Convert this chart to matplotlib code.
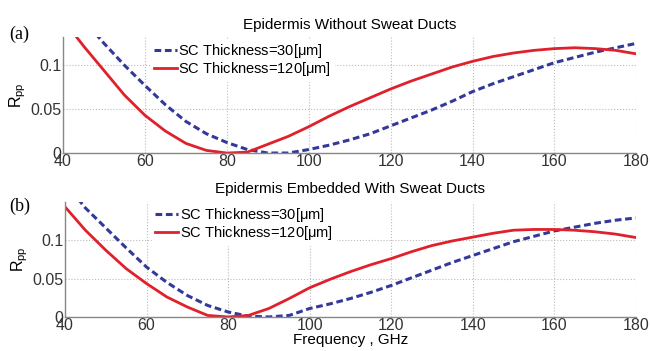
import numpy as np
import matplotlib
matplotlib.use("Agg")
from matplotlib import pyplot as plt

plt.rcParams['font.family'] = ['Liberation Sans', 'DejaVu Sans']
plt.rcParams['mathtext.default'] = 'regular'

# frequency grid, GHz
freq = np.arange(40, 181, 5)

# (a) epidermis without sweat ducts
rpp_a_30 = [0.200, 0.152, 0.125, 0.100, 0.077, 0.055, 0.036, 0.022, 0.012, 0.004,
            0.000, 0.000, 0.004, 0.009, 0.015, 0.022, 0.031, 0.040, 0.049, 0.059,
            0.070, 0.079, 0.087, 0.095, 0.103, 0.109, 0.115, 0.120, 0.125]
rpp_a_120 = [0.152, 0.122, 0.094, 0.066, 0.043, 0.025, 0.011, 0.003, 0.000, 0.001,
             0.010, 0.019, 0.030, 0.042, 0.053, 0.063, 0.073, 0.082, 0.090, 0.098,
             0.1045, 0.110, 0.114, 0.117, 0.119, 0.120, 0.119, 0.117, 0.113]

# (b) epidermis embedded with sweat ducts
rpp_b_30 = [0.175, 0.142, 0.116, 0.090, 0.065, 0.045, 0.028, 0.015, 0.0065, 0.001,
            0.000, 0.002, 0.011, 0.017, 0.024, 0.032, 0.041, 0.051, 0.061, 0.071,
            0.080, 0.089, 0.098, 0.105, 0.112, 0.117, 0.122, 0.126, 0.129]
rpp_b_120 = [0.1435, 0.113, 0.087, 0.063, 0.0435, 0.026, 0.013, 0.002, 0.000, 0.002,
             0.011, 0.024, 0.038, 0.049, 0.059, 0.068, 0.076, 0.085, 0.093, 0.099,
             0.104, 0.109, 0.113, 0.114, 0.114, 0.113, 0.111, 0.108, 0.1035]

labels = ['SC Thickness=30[$\\mu$m]', 'SC Thickness=120[$\\mu$m]']
titles = ['Epidermis Without Sweat Ducts', 'Epidermis Embedded With Sweat Ducts']
panel_tags = ['(a)', '(b)']
xticks = [40, 60, 80, 100, 120, 140, 160, 180]
yticks = [0, 0.05, 0.1]
ytick_labels = ['0', '0.05', '0.1']

blue = '#33399a'
red = '#e0202a'

fig = plt.figure(figsize=(6.5, 3.51), dpi=100)
ax_a = fig.add_axes([0.097, 0.564, 0.882, 0.330])
ax_b = fig.add_axes([0.100, 0.097, 0.878, 0.328])

panels = [(ax_a, rpp_a_30, rpp_a_120, 0.132, 0.889),
          (ax_b, rpp_b_30, rpp_b_120, 0.150, 0.400)]

for i, (ax, r30, r120, ytop, tag_y) in enumerate(panels):
    ax.plot(freq, r30, color=blue, lw=2.2, dashes=(2.2, 1.2), label=labels[0])
    ax.plot(freq, r120, color=red, lw=2.0, label=labels[1])
    ax.set_xlim(40, 180)
    ax.set_ylim(0, ytop)
    ax.set_xticks(xticks)
    ax.set_yticks(yticks)
    ax.set_yticklabels(ytick_labels)
    ax.tick_params(labelsize=11.5, length=0, pad=1, colors='#333333')
    ax.grid(True, color='#bbbbbb', linestyle=':', linewidth=0.8)
    for s in ['top', 'right']:
        ax.spines[s].set_visible(False)
    for s in ['left', 'bottom']:
        ax.spines[s].set_color('#888888')
        ax.spines[s].set_linewidth(1.0)
    ax.set_ylabel('R$_{pp}$', fontsize=11.5, labelpad=2)
    ax.set_title(titles[i], fontsize=11, pad=6)
    leg = ax.legend(loc='upper left', bbox_to_anchor=(0.14, 1.05), fontsize=10.5,
                    handlelength=1.6, handletextpad=0.1, labelspacing=0.0,
                    borderpad=0.2, frameon=True, fancybox=False)
    leg.get_frame().set_edgecolor('white')
    leg.get_frame().set_alpha(1.0)
    fig.text(0.015, tag_y, panel_tags[i],
             family=['Liberation Serif', 'DejaVu Serif'], fontsize=13)

ax_b.set_xlabel('Frequency , GHz', fontsize=11, labelpad=0)

fig.savefig('out.png', dpi=100)
